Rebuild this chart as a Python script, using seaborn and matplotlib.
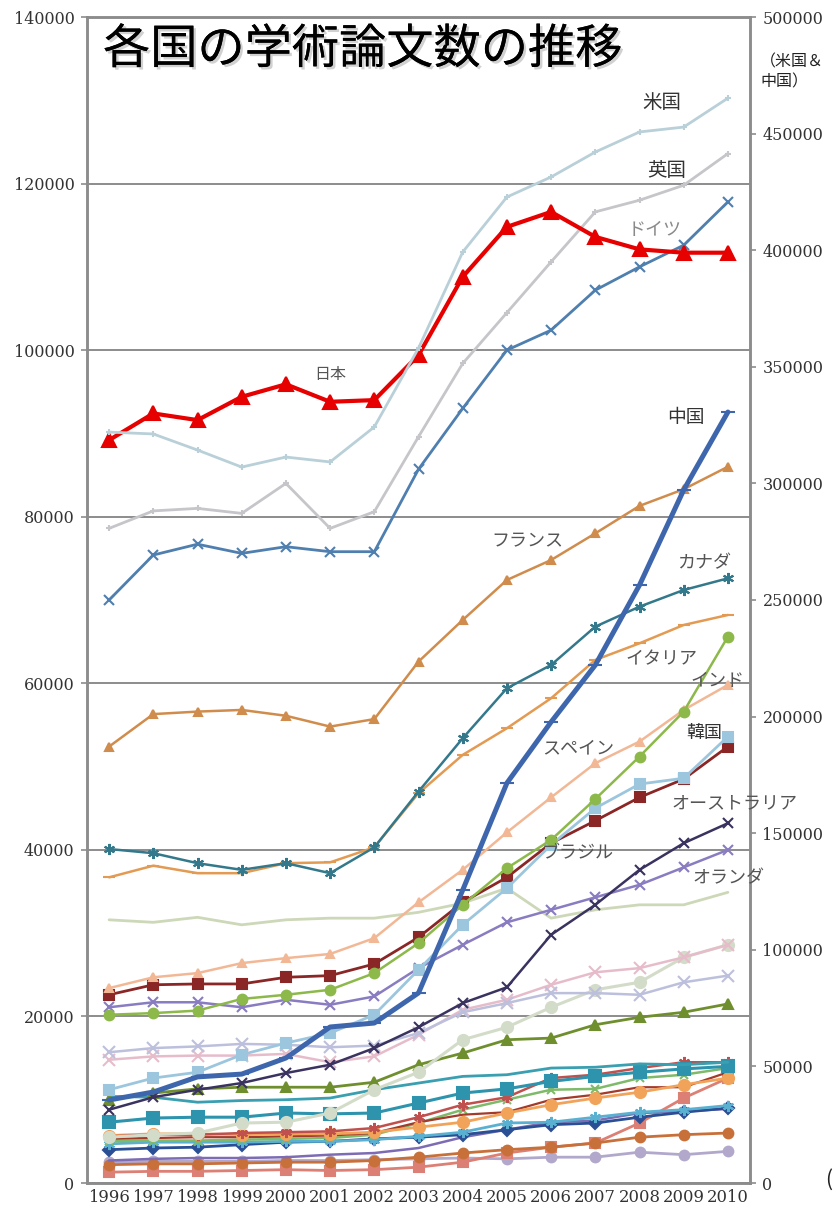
import matplotlib
matplotlib.use("Agg")
import matplotlib.pyplot as plt
import seaborn as sns
from matplotlib import patheffects as pe
from matplotlib.ticker import StrMethodFormatter, MultipleLocator

# ---------------- data ----------------
years = list(range(1996, 2011))
year_labels = [str(y) for y in years]

# right axis (米国 & 中国)
us = [322000, 321200, 314300, 307000, 311300, 309200, 324200, 358000, 399200, 422800, 431400, 442100, 450700, 452800, 465200]
china = [35600, 39000, 45500, 46700, 53600, 66900, 68600, 81500, 125600, 171500, 197700, 222100, 256400, 297200, 330600]

# left axis
japan = [89200, 92400, 91600, 94400, 95900, 93800, 94000, 99400, 108800, 114800, 116600, 113600, 112100, 111700, 111700]
uk = [78600, 80700, 81000, 80400, 84000, 78600, 80600, 89600, 98400, 104500, 110600, 116600, 118000, 119800, 123600]
germany = [70000, 75400, 76700, 75600, 76400, 75800, 75800, 85700, 93000, 100000, 102400, 107200, 110000, 112600, 117800]
france = [52400, 56300, 56600, 56800, 56100, 54800, 55700, 62600, 67600, 72400, 74800, 78000, 81300, 83300, 86000]
canada = [40100, 39600, 38400, 37600, 38400, 37200, 40300, 47000, 53400, 59400, 62200, 66800, 69200, 71200, 72600]
italy = [36700, 38100, 37200, 37200, 38400, 38500, 40300, 46800, 51400, 54600, 58200, 62800, 64800, 67000, 68200]
india = [20200, 20400, 20700, 22100, 22600, 23200, 25200, 28800, 33400, 37800, 41200, 46100, 51200, 56600, 65600]
spain = [23400, 24700, 25200, 26400, 27000, 27500, 29400, 33700, 37600, 42100, 46300, 50400, 53000, 56800, 59800]
korea = [11200, 12600, 13300, 15400, 16800, 18000, 20200, 25600, 31000, 35400, 40600, 45000, 47900, 48600, 53600]
australia = [22600, 23800, 23900, 23900, 24700, 24900, 26300, 29500, 33700, 36700, 40800, 43500, 46300, 48500, 52400]
brazil = [8800, 10300, 11200, 12000, 13200, 14200, 16200, 18700, 21600, 23500, 29800, 33400, 37600, 40800, 43200]
netherlands = [21100, 21700, 21700, 21100, 22000, 21400, 22400, 25800, 28600, 31300, 32800, 34300, 35800, 37900, 40000]
pale_green = [31600, 31300, 31900, 31000, 31600, 31800, 31800, 32500, 33600, 35400, 31800, 32800, 33400, 33400, 34900]

pale_lavender = [15700, 16200, 16400, 16700, 16600, 16300, 16500, 18000, 20500, 21600, 22800, 22800, 22600, 24100, 24900]
pale_pink = [14800, 15200, 15300, 15300, 15500, 14500, 15200, 17800, 20800, 22000, 23800, 25300, 25800, 27100, 28600]
sage = [5500, 5800, 6000, 7200, 7300, 8400, 11200, 13300, 17200, 18700, 21100, 23200, 24100, 27100, 28600]
olive = [10000, 10800, 11300, 11500, 11500, 11500, 12100, 14200, 15600, 17200, 17400, 19000, 19900, 20500, 21500]
teal_line = [10400, 10300, 9700, 9900, 10000, 10200, 11200, 12000, 12800, 13000, 13800, 13900, 14300, 14200, 14500]
teal_sq = [7300, 7800, 7900, 7900, 8400, 8300, 8400, 9600, 10800, 11300, 12200, 12800, 13300, 13700, 14000]
orange_c = [5700, 5900, 5900, 5800, 5900, 5900, 6100, 6700, 7300, 8400, 9400, 10200, 10900, 11800, 12600]
darkred_line = [5300, 5400, 5500, 5500, 5600, 5700, 6000, 7300, 8200, 8500, 10000, 10600, 11500, 11500, 13300]
red_ast = [5600, 5800, 5800, 6000, 6100, 6200, 6600, 7900, 9400, 10300, 12600, 13000, 13800, 14500, 14500]
green_x = [5000, 5100, 5100, 5200, 5300, 5400, 5800, 7200, 8800, 10000, 11200, 11300, 12600, 13000, 13800]
salmon_sq = [1300, 1400, 1400, 1500, 1600, 1500, 1600, 1900, 2500, 3600, 4300, 4800, 7200, 10200, 12600]
brown_c = [2200, 2300, 2300, 2400, 2500, 2500, 2700, 3100, 3600, 4000, 4300, 4800, 5500, 5800, 6000]
lilac_c = [2500, 2600, 2600, 2600, 2700, 2700, 2800, 2900, 3000, 2900, 3100, 3100, 3700, 3400, 3800]
navy_d = [4000, 4200, 4300, 4600, 4900, 5000, 5300, 5500, 5800, 6400, 7000, 7200, 7900, 8500, 9000]
sky_ast = [4700, 4900, 4900, 4900, 5000, 5000, 5200, 5600, 6100, 7200, 7300, 7900, 8500, 8800, 9300]
purple_line = [2700, 2900, 3000, 3000, 3100, 3400, 3600, 4200, 5500, 6400, 7300, 7500, 8400, 8600, 8900]

title = "各国の学術論文数の推移"
right_title = "（米国＆\n中国）"

# ---------------- style ----------------
sns.set_style("white")
plt.rcParams['font.family'] = ['Noto Sans CJK JP', 'DejaVu Sans']

AST = (6, 2, 0)  # asterisk marker

# (values, color, marker, markersize, linewidth)
left_series = [
    (lilac_c, "#b2a8cc", "o", 7, 2.0),
    (salmon_sq, "#dc7f74", "s", 7, 2.0),
    (brown_c, "#c8703a", "o", 7, 2.0),
    (purple_line, "#7d6cb4", None, 0, 1.8),
    (navy_d, "#2a4f95", "D", 6, 2.0),
    (sky_ast, "#5ab0d0", AST, 8, 2.0),
    (green_x, "#7fba6a", "x", 6, 1.8),
    (darkred_line, "#a33a2a", None, 0, 1.6),
    (orange_c, "#f2a35a", "o", 8, 2.0),
    (red_ast, "#c0504d", AST, 8, 1.8),
    (teal_sq, "#2e94ad", "s", 8, 2.2),
    (teal_line, "#3a9fb0", None, 0, 2.0),
    (olive, "#6f8f2e", "^", 7, 2.0),
    (sage, "#d3dcc8", "o", 8, 2.2),
    (pale_pink, "#e6bccb", "x", 8, 1.8),
    (pale_lavender, "#bcc0dc", "x", 8, 1.8),
    (pale_green, "#cdd8b8", None, 0, 2.0),
    (netherlands, "#8a7cc0", "x", 7, 1.8),
    (brazil, "#3a3360", "x", 7, 1.8),
    (australia, "#8b2626", "s", 7, 2.0),
    (korea, "#9cc6de", "s", 7, 2.0),
    (spain, "#f2b896", "^", 6, 1.8),
    (india, "#8db84a", "o", 7, 1.8),
    (italy, "#e39a52", "_", 8, 1.8),
    (canada, "#33798b", AST, 8, 1.8),
    (france, "#d08c4c", "^", 6, 1.8),
    (germany, "#4f7faf", "x", 7, 2.0),
    (uk, "#c6c6ca", "+", 5, 2.0),
    (japan, "#e60000", "^", 10, 3.0),
]

right_series = [
    (us, "#b9d0d9", "+", 5, 2.0),
    (china, "#3e66ad", "_", 10, 3.6),
]

fig = plt.figure(figsize=(8.37, 12.10), dpi=100)
ax = fig.add_axes([87 / 837, 27 / 1210, 663 / 837, 1166 / 1210])

for vals, c, m, ms, lw in left_series:
    kw = dict(marker=m, markersize=ms, markeredgecolor=c, markerfacecolor=c,
              markeredgewidth=1.5) if m is not None else {}
    sns.lineplot(x=years, y=vals, ax=ax, color=c, lw=lw, estimator=None, **kw)

ax.set_xlim(1995.5, 2010.5)
ax.set_ylim(0, 140000)
ax.yaxis.set_major_locator(MultipleLocator(20000))
ax.yaxis.set_major_formatter(StrMethodFormatter("{x:.0f}"))
ax.set_xticks(years)
ax.set_xticklabels(year_labels)
ax.set_xticks([y + 0.5 for y in [1995] + years], minor=True)
ax.tick_params(axis="x", which="major", length=0, pad=4, labelsize=11.8, labelcolor="#333333")
ax.tick_params(axis="x", which="minor", length=5, width=1.2, color="#8c8c8c", direction="out")
ax.tick_params(axis="y", length=4, width=1.2, color="#8c8c8c", pad=5, labelsize=11.5,
               labelcolor="#333333", left=True)
ax.yaxis.grid(True, color="#8c8c8c", lw=1.4)
ax.set_axisbelow(True)
ax.set_xlabel("")
ax.set_ylabel("")
for s in ax.spines.values():
    s.set_color("#8c8c8c")
    s.set_linewidth(1.8)

ax2 = ax.twinx()
for vals, c, m, ms, lw in right_series:
    sns.lineplot(x=years, y=vals, ax=ax2, color=c, lw=lw, estimator=None,
                 marker=m, markersize=ms, markeredgecolor=c, markerfacecolor=c,
                 markeredgewidth=1.5)
ax2.set_ylim(0, 500000)
ax2.yaxis.set_major_locator(MultipleLocator(50000))
ax2.yaxis.set_major_formatter(StrMethodFormatter("{x:.0f}"))
ax2.tick_params(axis="y", length=4, width=1.2, color="#8c8c8c", pad=5, labelsize=11.5,
                labelcolor="#333333", right=True)
ax2.set_ylabel("")
ax2.grid(False)
for s in ax2.spines.values():
    s.set_color("#8c8c8c")
    s.set_linewidth(1.8)
ax.set_xlim(1995.5, 2010.5)

for lab in ax.get_xticklabels() + ax.get_yticklabels() + ax2.get_yticklabels():
    lab.set_fontfamily("DejaVu Serif")

# ---------------- texts ----------------
def fx(px):
    return px / 837

def fy(py):
    return 1 - py / 1210

fig.text(fx(103), fy(50), title, fontsize=34, va="center", ha="left", color="black",
         path_effects=[pe.withSimplePatchShadow(offset=(1.8, -1.8), shadow_rgbFace="#999999", alpha=0.45),
                       pe.Normal()])
fig.text(fx(760), fy(72), right_title, fontsize=11.5, va="center", ha="left",
         color="#222222", linespacing=1.25)

labels = [
    ("米国", 662, 103, 14, "#333333"),
    ("英国", 667, 170, 14, "#333333"),
    ("ドイツ", 655, 230, 13, "#8a8a8a"),
    ("日本", 330, 375, 11.5, "#555555"),
    ("中国", 686, 418, 13.5, "#333333"),
    ("フランス", 527, 541, 13, "#555555"),
    ("カナダ", 704, 563, 13, "#555555"),
    ("イタリア", 661, 659, 13, "#555555"),
    ("インド", 717, 681, 13, "#555555"),
    ("スペイン", 578, 748, 13, "#555555"),
    ("韓国", 704, 733, 13, "#333333"),
    ("オーストラリア", 734, 803, 13, "#555555"),
    ("ブラジル", 578, 853, 13, "#555555"),
    ("オランダ", 728, 878, 13, "#555555"),
]
for txt, x, y, fs, col in labels:
    fig.text(fx(x), fy(y), txt, fontsize=fs, color=col, ha="center", va="center", zorder=10)

fig.text(fx(829), fy(1180), "(", fontsize=15, ha="center", va="center", color="#222222")

fig.savefig("out.png", dpi=100, facecolor="white")
